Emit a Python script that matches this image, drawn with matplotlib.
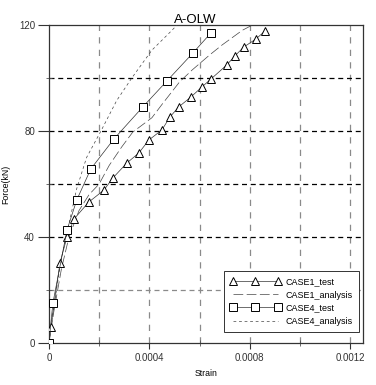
"""Force-strain curves for specimen A-OLW (test vs. analysis)."""

import matplotlib

matplotlib.use("Agg")
import matplotlib.pyplot as plt  # noqa: E402
from matplotlib.ticker import MultipleLocator  # noqa: E402

plt.rcParams["font.family"] = ["Liberation Sans", "DejaVu Sans"]

# CASE1 test (triangles)
case1_test_strain = [0.0, 8e-6, 4.4e-5, 7.2e-5, 1.0e-4, 1.59e-4, 2.19e-4, 2.55e-4,
                     3.1e-4, 3.58e-4, 3.98e-4, 4.5e-4, 4.82e-4, 5.17e-4, 5.65e-4,
                     6.09e-4, 6.45e-4, 7.08e-4, 7.4e-4, 7.76e-4, 8.24e-4, 8.6e-4]
case1_test_force = [0.0, 6.0, 30.2, 40.0, 46.8, 53.2, 57.7, 62.3,
                    67.9, 71.7, 76.6, 80.4, 85.3, 89.1, 92.8,
                    96.6, 99.6, 104.9, 108.3, 111.7, 114.7, 117.7]

# CASE1 analysis (long dash)
case1_ana_strain = [0.0, 2e-5, 5e-5, 8e-5, 1.2e-4, 1.6e-4, 2.0e-4, 2.4e-4, 2.9e-4,
                    3.34e-4, 4.1e-4, 4.5e-4, 5.2e-4, 5.7e-4, 6.4e-4, 6.9e-4,
                    7.7e-4, 8.1e-4]
case1_ana_force = [0.0, 12.0, 28.0, 40.0, 50.0, 56.0, 60.0, 67.0, 74.0,
                   79.6, 85.0, 90.0, 98.5, 103.0, 108.7, 112.5,
                   118.0, 120.0]

# CASE4 test (squares)
case4_test_strain = [0.0, 1.6e-5, 7.2e-5, 1.11e-4, 1.67e-4, 2.59e-4, 3.74e-4,
                     4.7e-4, 5.73e-4, 6.45e-4]
case4_test_force = [0.0, 15.1, 42.6, 54.0, 65.7, 77.0, 89.1, 98.9, 109.4, 117.0]

# CASE4 analysis (short dash)
case4_ana_strain = [0.0, 2e-5, 5e-5, 8e-5, 1.1e-4, 1.5e-4, 2.1e-4, 2.7e-4,
                    3.3e-4, 4.1e-4, 4.9e-4, 5.1e-4]
case4_ana_force = [0.0, 14.0, 32.0, 45.0, 58.0, 70.0, 80.5, 91.5,
                   100.0, 110.5, 118.0, 120.0]

figure = plt.figure(figsize=(3.76, 3.85), dpi=100)
axis = figure.add_axes([0.130, 0.109, 0.835, 0.826])

# grid drawn by hand so major/minor lines get different looks
for x in [0.0002, 0.0004, 0.0006, 0.0008, 0.0010, 0.0012]:
    axis.axvline(x, color="#8a8a8a", linewidth=0.9, dashes=(5, 5), zorder=1)
for y in [40, 60, 80, 100]:
    axis.axhline(y, color="black", linewidth=0.9, dashes=(4, 3), zorder=1)
axis.axhline(20, color="#8a8a8a", linewidth=0.9, dashes=(4, 3), zorder=1)

axis.plot(case1_test_strain, case1_test_force, color="#333333", linewidth=0.5,
          marker="^", markersize=5.8, markerfacecolor="white",
          markeredgecolor="black", markeredgewidth=0.7,
          label="CASE1_test", zorder=4)
axis.plot(case1_ana_strain, case1_ana_force, color="#444444", linewidth=0.5,
          dashes=(14, 5), label="CASE1_analysis", zorder=3)
axis.plot(case4_test_strain, case4_test_force, color="#333333", linewidth=0.5,
          marker="s", markersize=5.5, markerfacecolor="white",
          markeredgecolor="black", markeredgewidth=0.7,
          label="CASE4_test", zorder=4)
axis.plot(case4_ana_strain, case4_ana_force, color="#444444", linewidth=0.5,
          dashes=(4, 4), label="CASE4_analysis", zorder=3)

axis.set_xlim(0, 0.00125)
axis.set_ylim(0, 120)
axis.set_xticks([0, 0.0004, 0.0008, 0.0012])
axis.set_xticklabels(["0", "0.0004", "0.0008", "0.0012"])
axis.set_yticks([0, 40, 80, 120])
axis.xaxis.set_minor_locator(MultipleLocator(0.0002))
axis.yaxis.set_minor_locator(MultipleLocator(20))
axis.tick_params(which="major", direction="out", width=0.8,
                 labelsize=7, colors="#333333")
axis.tick_params(axis="y", which="major", length=8, pad=2)
axis.tick_params(axis="x", which="major", length=4.5, pad=3)
axis.tick_params(which="minor", direction="inout", length=4, width=0.6,
                 colors="#555555")
for spine in axis.spines.values():
    spine.set_linewidth(0.9)
    spine.set_color("#333333")

axis.set_xlabel("Strain", fontsize=6.3, labelpad=4)
axis.set_ylabel("Force(kN)", fontsize=6.3, labelpad=6)
figure.text(0.519, 0.940, "A-OLW", fontsize=9.5, ha="center", va="baseline")

legend = axis.legend(loc="upper left", bbox_to_anchor=(0.557, 0.226),
                     borderaxespad=0, numpoints=3, handlelength=5.6,
                     fontsize=6.5, fancybox=False, framealpha=1,
                     edgecolor="#333333", borderpad=0.7, labelspacing=0.45,
                     handletextpad=0.5)
legend.get_frame().set_linewidth(0.7)

figure.savefig("out.png", dpi=100)
